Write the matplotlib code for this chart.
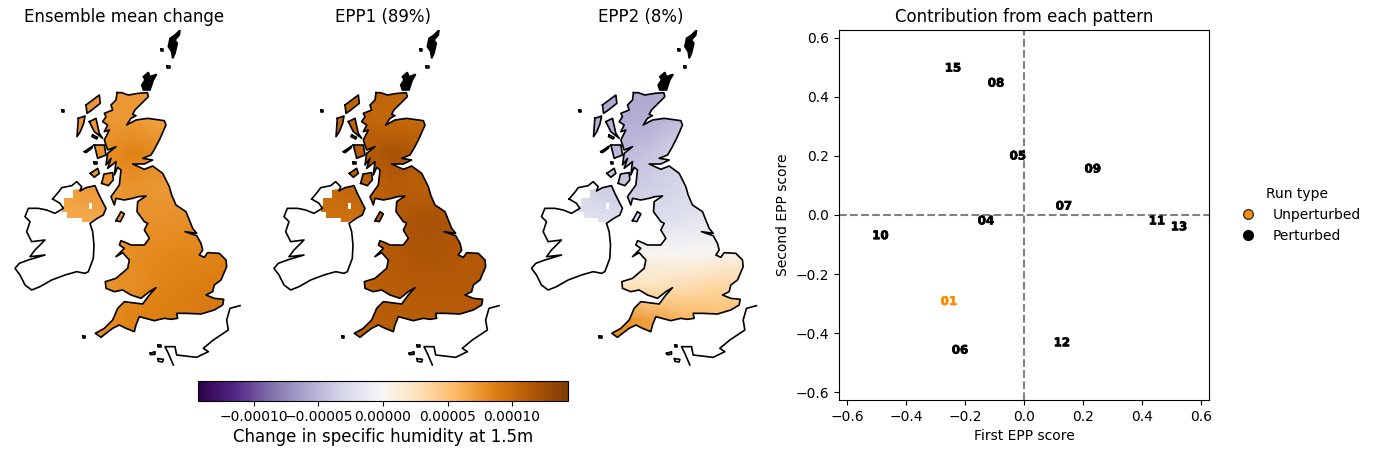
import numpy as np
import matplotlib.pyplot as plt
import matplotlib.patheffects as pe
from matplotlib.lines import Line2D
from matplotlib.patches import PathPatch
from matplotlib.path import Path

# coastlines (map units = 1/3 pixel)
britain = [(351, 218), (365, 218), (385, 225), (415, 220), (442, 218), (445, 230), (425, 250), (405, 270), (398, 283),
           (408, 287), (393, 295), (380, 315), (408, 300), (443, 295), (493, 302), (498, 315), (488, 338), (478, 360),
           (465, 385), (453, 405), (428, 415), (458, 420), (433, 432), (398, 432), (433, 448), (458, 438), (488, 460),
           (508, 500), (515, 525), (528, 555), (558, 575), (578, 625), (590, 640), (555, 635), (590, 647), (603, 670),
           (608, 690), (598, 705), (613, 712), (623, 698), (658, 700), (678, 720), (680, 740), (663, 780), (643, 795),
           (638, 815), (618, 825), (643, 835), (671, 838), (668, 855), (643, 870), (603, 882), (558, 880), (530, 880),
           (533, 895), (513, 898), (493, 895), (463, 902), (418, 890), (408, 915), (403, 935), (378, 925), (358, 915),
           (338, 925), (318, 940), (303, 952), (286, 940), (313, 925), (338, 900), (353, 865), (373, 845), (428, 852),
           (448, 825), (468, 803), (448, 815), (423, 835), (393, 825), (368, 810), (343, 815), (318, 805), (316, 785),
           (348, 775), (383, 745), (388, 720), (368, 698), (348, 710), (373, 685), (358, 675), (363, 662), (378, 668),
           (393, 675), (433, 675), (448, 655), (433, 630), (443, 610), (433, 605), (411, 575), (413, 545), (438, 528),
           (415, 530), (398, 535), (373, 540), (348, 535), (343, 555), (333, 530), (358, 495), (363, 450), (353, 442),
           (343, 465), (348, 425), (323, 445), (333, 415), (318, 435), (323, 400), (348, 380), (323, 390), (313, 360),
           (328, 330), (313, 335), (323, 315), (308, 305), (318, 290), (313, 280), (338, 270), (333, 255), (348, 240),
           (351, 218)]
ireland = [(158, 537), (178, 513), (185, 503), (215, 497), (230, 485), (245, 500), (240, 513), (258, 503), (285, 497),
           (295, 520), (310, 550), (318, 565), (310, 585), (292, 595), (270, 610), (278, 635), (282, 675), (280, 715),
           (265, 755), (255, 760), (230, 755), (195, 765), (155, 780), (120, 800), (95, 810), (75, 795), (60, 765),
           (45, 745), (58, 730), (85, 720), (135, 705), (90, 710), (105, 690), (135, 660), (95, 665), (80, 635),
           (90, 605), (75, 590), (85, 565), (115, 565), (140, 570), (165, 580), (190, 565), (180, 550), (158, 537)]
n_ireland = [(193, 533), (220, 533), (220, 510), (258, 503), (285, 497), (295, 520), (310, 550), (318, 565), (310, 585),
             (292, 595), (268, 605), (245, 605), (245, 593), (202, 593), (202, 575), (185, 575), (185, 557), (193, 557),
             (193, 533)]
ni_gap = [(267, 549), (276, 549), (276, 567), (267, 567), (267, 549)]
shetland = [(540, 30), (525, 45), (510, 55), (505, 80), (515, 95), (518, 115), (525, 100), (532, 70), (525, 60), (538, 45), (540, 30)]
orkney = [(445, 157), (450, 170), (470, 163), (460, 180), (455, 195), (450, 210), (430, 210), (425, 195), (435, 180), (430, 170), (445, 157)]
islands = [
    [(258, 255), (298, 225), (301, 250), (273, 272), (261, 280), (258, 255)],
    [(235, 295), (255, 288), (251, 310), (241, 335), (231, 350), (235, 295)],
    [(268, 305), (288, 295), (298, 340), (308, 355), (283, 335), (268, 305)],
    [(253, 395), (278, 378), (275, 385), (258, 398), (253, 395)],
    [(283, 375), (313, 375), (318, 405), (293, 415), (283, 375)],
    [(278, 345), (293, 352), (290, 357), (276, 350), (278, 345)],
    [(271, 460), (293, 445), (298, 460), (283, 472), (271, 460)],
    [(305, 490), (312, 462), (338, 458), (340, 480), (325, 497), (305, 490)],
    [(348, 602), (363, 575), (373, 582), (361, 605), (348, 602)],
    [(186, 271), (193, 271), (193, 276), (186, 276), (186, 271)],
    [(483, 88), (490, 88), (490, 93), (483, 93), (483, 88)],
    [(502, 139), (509, 139), (509, 145), (502, 145), (502, 139)],
    [(248, 949), (255, 949), (255, 955), (248, 955), (248, 949)],
    [(283, 426), (290, 426), (290, 432), (283, 432), (283, 426)],
]
channel_isles = [
    [(450, 1000), (465, 995), (465, 1003), (452, 1004), (450, 1000)],
    [(474, 1016), (490, 1018), (488, 1026), (475, 1024), (474, 1016)],
    [(475, 976), (482, 976), (482, 981), (475, 981), (475, 976)],
]
france = [(720, 857), (690, 865), (680, 900), (685, 930), (640, 960), (610, 985), (625, 995), (590, 1012), (530, 1005),
          (525, 980), (495, 980), (505, 1000), (520, 1035)]

# humidity change on a coarse map grid, units of 1e-5
grid_x = [150, 300, 400, 500, 600, 700]
grid_y = [200, 300, 400, 500, 600, 700, 800, 900, 1000]
mean_change = [[7.5, 7.5, 7.5, 7.5, 7.5, 7.5],
               [7.5, 7.5, 7.3, 6.8, 6.8, 6.8],
               [7.5, 7.8, 8.6, 8.0, 7.5, 7.5],
               [6.8, 7.5, 7.7, 7.3, 7.8, 8.0],
               [6.5, 6.5, 7.8, 7.8, 8.0, 8.2],
               [7.0, 8.0, 8.0, 8.2, 8.4, 8.6],
               [8.0, 7.6, 8.0, 8.6, 8.9, 9.0],
               [8.0, 8.0, 8.6, 8.9, 9.0, 9.1],
               [8.0, 8.0, 8.6, 8.9, 9.0, 9.1]]
epp1 = [[10.6, 10.6, 10.6, 10.6, 10.6, 10.6],
        [10.6, 10.6, 10.4, 10.2, 10.2, 10.2],
        [10.8, 11.0, 12.0, 11.2, 10.8, 10.8],
        [9.8, 10.6, 11.2, 10.8, 11.4, 11.4],
        [9.8, 9.8, 11.4, 12.0, 11.6, 11.6],
        [10.2, 11.2, 11.4, 11.8, 11.5, 11.5],
        [10.8, 10.8, 11.2, 11.4, 11.4, 11.4],
        [10.6, 10.8, 11.2, 11.2, 11.2, 11.2],
        [10.6, 10.8, 11.2, 11.2, 11.2, 11.2]]
epp2 = [[-6.0, -6.0, -6.0, -6.0, -6.0, -6.0],
        [-5.5, -5.5, -5.5, -4.5, -3.5, -3.5],
        [-4.5, -5.0, -4.2, -3.0, -3.0, -3.0],
        [-2.5, -4.0, -3.5, -3.0, -2.8, -2.5],
        [-2.2, -2.2, -2.6, -2.0, -1.5, -1.0],
        [0.0, 0.5, 0.3, 0.0, 0.3, 0.8],
        [2.5, 2.5, 2.5, 3.0, 3.5, 3.8],
        [7.5, 8.0, 7.0, 6.0, 5.5, 5.2],
        [8.0, 8.0, 7.0, 6.0, 5.5, 5.2]]
map_fields = [mean_change, epp1, epp2]
map_titles = ["Ensemble mean change", "EPP1 (89%)", "EPP2 (8%)"]
map_left = [4, 263, 520.5]

run_labels = ["15", "08", "05", "09", "07", "04", "11", "13", "10", "01", "06", "12"]
first_score = [-0.241, -0.095, -0.021, 0.233, 0.135, -0.129, 0.45, 0.525, -0.487, -0.255, -0.217, 0.128]
second_score = [0.498, 0.447, 0.2, 0.156, 0.03, -0.02, -0.02, -0.04, -0.07, -0.293, -0.458, -0.433]
unperturbed = "01"

W, H = 1376, 454
vmax = 1.434e-4


def px_axes(fig, x0, y0, x1, y1):
    return fig.add_axes([x0 / W, 1 - y1 / H, (x1 - x0) / W, (y1 - y0) / H])


def make_path(rings):
    verts = []
    codes = []
    for ring in rings:
        verts += ring
        codes += [Path.MOVETO] + [Path.LINETO] * (len(ring) - 2) + [Path.CLOSEPOLY]
    return Path(verts, codes)


fig = plt.figure(figsize=(W / 100, H / 100), dpi=100)
land = make_path([britain, n_ireland] + islands + channel_isles)
gap = make_path([ni_gap])
black_land = make_path([shetland, orkney])

for left, field, title in zip(map_left, map_fields, map_titles):
    ax = px_axes(fig, left, 30, left + 240, 370)
    ax.set_xlim(12, 732)
    ax.set_ylim(1050, 30)
    ax.axis("off")
    ax.set_title(title, fontsize=12, pad=6)
    mesh = ax.pcolormesh(grid_x, grid_y, np.array(field) * 1e-5, shading="gouraud",
                         cmap="PuOr_r", vmin=-vmax, vmax=vmax)
    clip = PathPatch(land, transform=ax.transData, fc="none", ec="none")
    ax.add_patch(clip)
    mesh.set_clip_path(clip)
    ax.add_patch(PathPatch(gap, fc="white", ec="none", zorder=2))
    ax.add_patch(PathPatch(black_land, fc="black", ec="black", lw=1.2, zorder=3))
    for ring in [britain, ireland, france] + islands + channel_isles:
        xs, ys = zip(*ring)
        ax.plot(xs, ys, color="black", lw=1.2, zorder=3)

cax = px_axes(fig, 198, 381, 568, 400.5)
sm = plt.cm.ScalarMappable(cmap="PuOr_r", norm=plt.Normalize(-vmax, vmax))
cbar = fig.colorbar(sm, cax=cax, orientation="horizontal", ticks=[-1e-4, -5e-5, 0, 5e-5, 1e-4])
cbar.ax.set_xticklabels(["\u22120.00010", "\u22120.00005", "0.00000", "0.00005", "0.00010"])
cbar.set_label("Change in specific humidity at 1.5m", fontsize=12, labelpad=3)

ax = px_axes(fig, 839, 30, 1209, 400)
ax.set_xlim(-0.627, 0.627)
ax.set_ylim(-0.627, 0.627)
ax.axhline(0, color="grey", ls="--", lw=1.5)
ax.axvline(0, color="grey", ls="--", lw=1.5)
for label, x, y in zip(run_labels, first_score, second_score):
    colour = "darkorange" if label == unperturbed else "black"
    ax.text(x, y, label, color=colour, fontsize=8.5, fontweight="bold", ha="center", va="center",
            path_effects=[pe.withStroke(linewidth=0.5, foreground=colour)])
ax.set_xlabel("First EPP score")
ax.set_ylabel("Second EPP score")
ax.set_title("Contribution from each pattern", fontsize=12)

handles = [Line2D([], [], ls="none", marker="o", ms=7, mfc="darkorange", mec="#333333", label="Unperturbed"),
           Line2D([], [], ls="none", marker="o", ms=7, mfc="black", mec="black", label="Perturbed")]
ax.legend(handles=handles, title="Run type", frameon=False, loc="center left", bbox_to_anchor=(1.0335, 0.5))

plt.savefig("out.png", dpi=100)
plt.close()
